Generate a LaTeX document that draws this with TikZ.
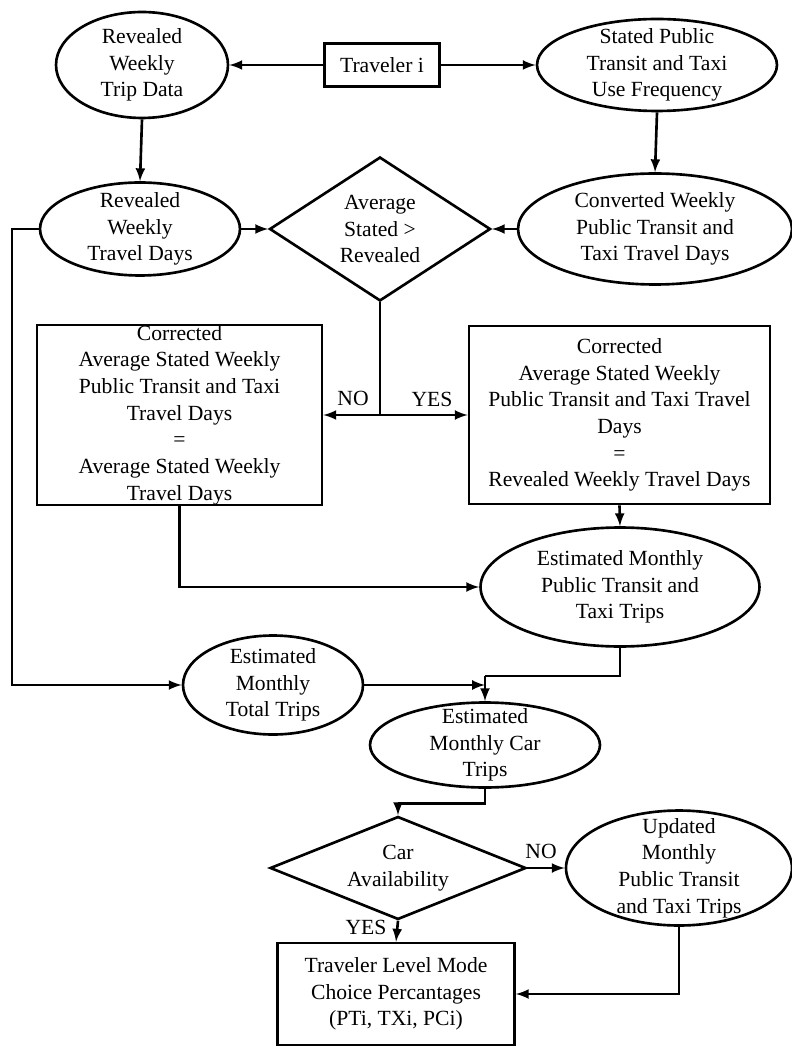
\documentclass[tikz,border=0pt]{standalone}
\usepackage{fontspec}
\setmainfont{Liberation Serif}
\usepackage{tikz}
\usetikzlibrary{shapes.geometric}
\usetikzlibrary{arrows}

\tikzset{
	oval/.style={draw, ellipse, line width=1.5pt, inner xsep=0pt, inner ysep=-6pt, align=center},
	stepbox/.style={draw, rectangle, line width=1.5pt, inner sep=0pt, align=center},
	choice/.style={draw, diamond, line width=1.5pt, inner sep=0pt, align=center},
	wire/.style={line width=1.5pt},
	arrow/.style={line width=1.5pt, -latex}
}

\begin{document}
\begin{tikzpicture}[x=0.02cm, y=-0.02cm, font=\fontsize{12.3}{15.2}\selectfont]
	\useasboundingbox (0,0) rectangle (791,1053);
	% Nodes:
	\node[stepbox, minimum width=2.3cm, minimum height=0.86cm](trav) at (382, 65){Traveler i};
	\node[oval, minimum width=3.44cm, minimum height=2.12cm](rwtd) at (142, 65){Revealed\\Weekly\\Trip Data};
	\node[oval, minimum width=4.8cm, minimum height=1.84cm](spf) at (657, 65){Stated Public\\Transit and Taxi\\Use Frequency};
	\node[oval, minimum width=4cm, minimum height=1.86cm](rwtrav) at (140, 229){Revealed\\Weekly\\Travel Days};
	\node[choice, shape aspect=1.5, minimum width=4.42cm, minimum height=2.88cm](dec) at (380, 229){Average\\Stated >\\Revealed};
	\node[oval, minimum width=5.48cm, minimum height=2.22cm](cwd) at (655, 229){Converted Weekly\\Public Transit and\\Taxi Travel Days};
	\node[stepbox, minimum width=5.7cm, minimum height=3.56cm](nobox) at (179.5, 415){Corrected\\Average Stated Weekly\\Public Transit and Taxi\\Travel Days\\=\\Average Stated Weekly\\Travel Days};
	\node[stepbox, minimum width=6.02cm, minimum height=3.56cm](yesbox) at (619.5, 415){Corrected\\Average Stated Weekly\\Public Transit and Taxi Travel\\Days\\=\\Revealed Weekly Travel Days};
	\node[oval, minimum width=5.58cm, minimum height=2.38cm](emp) at (620, 587){Estimated Monthly\\Public Transit and\\Taxi Trips};
	\node[oval, minimum width=3.6cm, minimum height=1.98cm](emt) at (273, 685){Estimated\\Monthly\\Total Trips};
	\node[oval, minimum width=4.6cm, minimum height=1.7cm](ect) at (485, 745){Estimated\\Monthly Car\\Trips};
	\node[choice, shape aspect=2.5, minimum width=5.12cm, minimum height=2.06cm](car) at (398, 868){Car\\Availability};
	\node[oval, minimum width=4.52cm, minimum height=2.3cm](upd) at (679, 868){Updated\\Monthly\\Public Transit\\and Taxi Trips};
	\node[stepbox, minimum width=4.74cm, minimum height=2.04cm](fin) at (396, 994){Traveler Level Mode\\Choice Percantages\\(PTi, TXi, PCi)};
	% Labels:
	\node(no1) at (353, 398){NO};
	\node(yes1) at (432, 399){YES};
	\node(no2) at (541, 851){NO};
	\node(yes2) at (366, 927){YES};
	% Junctions:
	\coordinate (split) at (dec.south |- nobox.east);
	\coordinate (lft) at (12, 229);
	\coordinate (mrg) at (485, 676);
	% Paths and wires:
	\draw[arrow] (trav.west) -- (rwtd.east);
	\draw[arrow] (trav.east) -- (spf.west);
	\draw[arrow] (rwtd.south) -- (rwtrav.north);
	\draw[arrow] (spf.south) -- (cwd.north);
	\draw[arrow] (rwtrav.east) -- (dec.west);
	\draw[arrow] (cwd.west) -- (dec.east);
	\draw[wire] (dec.south) -- (split);
	\draw[arrow] (split) -- (nobox.east);
	\draw[arrow] (split) -- (yesbox.west);
	\draw[arrow] (nobox.south) |- (emp.west);
	\draw[arrow] (yesbox.south) -- (emp.north);
	\draw[arrow] (rwtrav.west) -- (lft) |- (emt.west);
	\draw[wire] (emp.south) |- (mrg);
	\draw[arrow] (mrg) -- (ect.north);
	\draw[arrow] (emt.east) -- (emt.east -| mrg);
	\draw[arrow] (ect.south) -- ++(0, 15) -| (car.north);
	\draw[arrow] (car.east) -- (upd.west);
	\draw[arrow] (car.south) -- (fin.north);
	\draw[arrow] (upd.south) |- (fin.east);
\end{tikzpicture}
\end{document}
